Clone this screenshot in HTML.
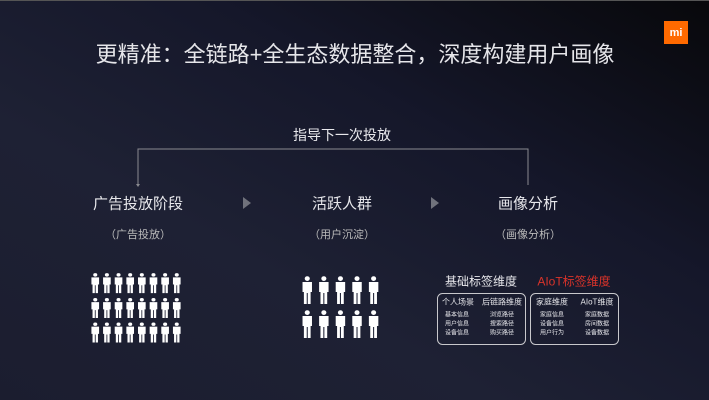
<!DOCTYPE html>
<html><head><meta charset="utf-8"><style>
html,body{margin:0;padding:0}
body{width:709px;height:400px;overflow:hidden;position:relative;font-family:"Liberation Sans","Noto Sans CJK SC",sans-serif;
background:linear-gradient(to bottom left,#08080b 0%,#15172a 35%,#1e2134 65%,#1b1d2f 100%);}
.t{position:absolute;color:#e8e8ec;white-space:nowrap;transform:translate(-50%,-50%)}
</style></head><body>
<div style="position:absolute;left:0;top:0;width:709px;height:1px;background:#555"></div>
<div style="position:absolute;left:664px;top:21px;width:24px;height:23px;background:#ff6a00"></div>
<div class="t" style="left:676px;top:32.5px;font-size:11px;font-weight:bold;color:#fff">mi</div>
<div class="t" style="left:355px;top:53px;font-size:22px;color:#e6e6ea">更精准：全链路+全生态数据整合，深度构建用户画像</div>
<div class="t" style="left:342px;top:135px;font-size:14px">指导下一次投放</div>
<svg width="709" height="400" style="position:absolute;left:0;top:0">
<polyline points="138,184 138,149 528,149 528,185" fill="none" stroke="#8a8a90" stroke-width="1"/>
<polygon points="136,184 140,184 138,187" fill="#8a8a90"/>
<polygon points="243,197 251,203 243,209" fill="#70727c"/>
<polygon points="431,197 439,203 431,209" fill="#70727c"/>
<defs>
<g id="p"><circle cx="5" cy="2.6" r="2.4" fill="#fff"/><path d="M0.5,6 H9.5 V16 H8.2 V28 H5.5 V17 H4.5 V28 H1.8 V16 H0.5 Z" fill="#fff"/></g>
</defs>
<g id="left"></g>
<rect x="437.5" y="293.5" width="88" height="51" rx="5" fill="none" stroke="#c8c8cc" stroke-width="1"/>
<rect x="530.5" y="293.5" width="88" height="51" rx="5" fill="none" stroke="#c8c8cc" stroke-width="1"/>
</svg>
<div class="t" style="left:138px;top:203px;font-size:15px">广告投放阶段</div>
<div class="t" style="left:342px;top:203px;font-size:15px">活跃人群</div>
<div class="t" style="left:528px;top:203px;font-size:15px">画像分析</div>
<div class="t" style="left:138px;top:234px;font-size:11px;color:#bbb">（广告投放）</div>
<div class="t" style="left:342px;top:234px;font-size:11px;color:#bbb">（用户沉淀）</div>
<div class="t" style="left:528px;top:234px;font-size:11px;color:#bbb">（画像分析）</div>
<div class="t" style="left:481px;top:281px;font-size:12px">基础标签维度</div>
<div class="t" style="left:574px;top:281px;font-size:12px;color:#d9332a">AIoT标签维度</div>
<div class="t" style="left:458px;top:302px;font-size:8px">个人场景</div>
<div class="t" style="left:502px;top:302px;font-size:8px">后链路维度</div>
<div class="t" style="left:552px;top:302px;font-size:8px">家庭维度</div>
<div class="t" style="left:597px;top:302px;font-size:8px">AIoT维度</div>
<div class="t" style="left:457px;top:325px;font-size:6px;line-height:9px;text-align:center">基本信息<br>用户信息<br>设备信息</div>
<div class="t" style="left:502px;top:325px;font-size:6px;line-height:9px;text-align:center">浏览路径<br>搜索路径<br>购买路径</div>
<div class="t" style="left:552px;top:325px;font-size:6px;line-height:9px;text-align:center">家庭信息<br>设备信息<br>用户行为</div>
<div class="t" style="left:597px;top:325px;font-size:6px;line-height:9px;text-align:center">家庭数据<br>房间数据<br>设备数据</div>
<svg width="709" height="400" style="position:absolute;left:0;top:0">
<defs><g id="q"><circle cx="5" cy="2.6" r="2.4" fill="#fff"/><path d="M0.5,6 H9.5 V16 H8.2 V28 H5.5 V17 H4.5 V28 H1.8 V16 H0.5 Z" fill="#fff"/></g></defs>
<g transform="translate(91,273) scale(0.85,0.72)">
<use href="#q" x="0" y="0"/><use href="#q" x="13.7" y="0"/><use href="#q" x="27.4" y="0"/><use href="#q" x="41.1" y="0"/><use href="#q" x="54.8" y="0"/><use href="#q" x="68.5" y="0"/><use href="#q" x="82.2" y="0"/><use href="#q" x="95.9" y="0"/>
<use href="#q" x="0" y="34.5"/><use href="#q" x="13.7" y="34.5"/><use href="#q" x="27.4" y="34.5"/><use href="#q" x="41.1" y="34.5"/><use href="#q" x="54.8" y="34.5"/><use href="#q" x="68.5" y="34.5"/><use href="#q" x="82.2" y="34.5"/><use href="#q" x="95.9" y="34.5"/>
<use href="#q" x="0" y="68.5"/><use href="#q" x="13.7" y="68.5"/><use href="#q" x="27.4" y="68.5"/><use href="#q" x="41.1" y="68.5"/><use href="#q" x="54.8" y="68.5"/><use href="#q" x="68.5" y="68.5"/><use href="#q" x="82.2" y="68.5"/><use href="#q" x="95.9" y="68.5"/>
</g>
<g transform="translate(302,276) scale(1.05,1.0)">
<use href="#q" x="0" y="0"/><use href="#q" x="15.8" y="0"/><use href="#q" x="31.6" y="0"/><use href="#q" x="47.4" y="0"/><use href="#q" x="63.2" y="0"/>
<use href="#q" x="0" y="34"/><use href="#q" x="15.8" y="34"/><use href="#q" x="31.6" y="34"/><use href="#q" x="47.4" y="34"/><use href="#q" x="63.2" y="34"/>
</g>
</svg>
</body></html>
